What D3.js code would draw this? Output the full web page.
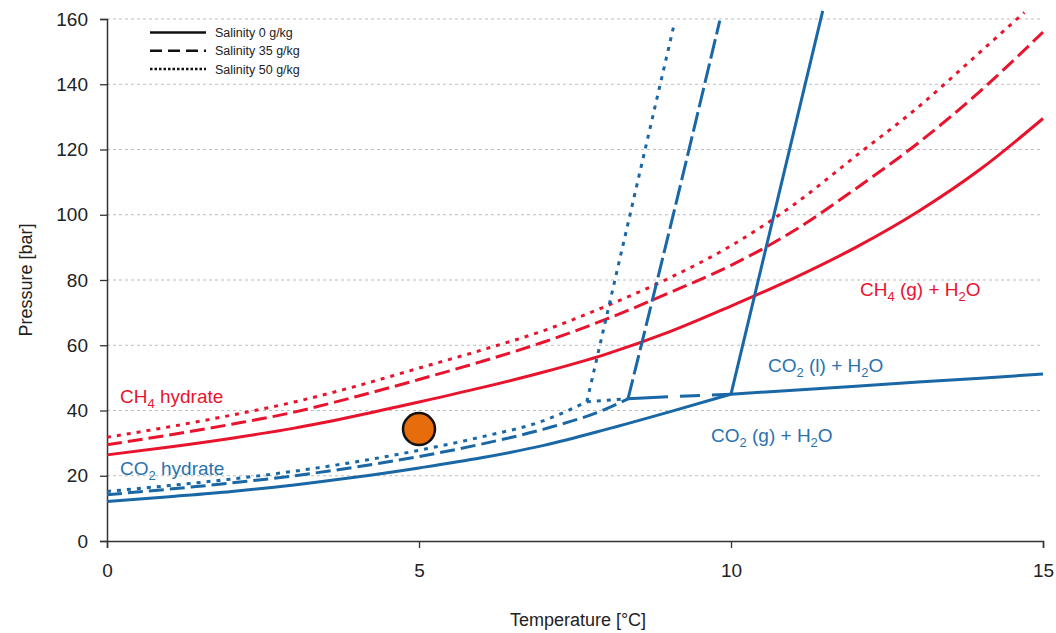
<!DOCTYPE html>
<html>
<head>
<meta charset="utf-8">
<script src="https://cdn.jsdelivr.net/npm/d3@7"></script>
<style>
  body { margin: 0; background: #fff; }
  text { font-family: "Liberation Sans", Arial, sans-serif; }
</style>
</head>
<body>
<svg id="chart" width="1056" height="633"></svg>
<script>
// temperatures (degC) for CH4 curves
const ch4Temp = [0, 1, 2, 3, 4, 5, 6, 7, 8, 9, 10, 11, 12, 13, 14, 15];
const ch4Sal0  = [26.4, 28.8, 31.5, 34.6, 38.4, 42.6, 47, 51.8, 57.3, 64, 72, 80.5, 90, 101, 114, 129.5];
const ch4Sal35 = [29.5, 32.5, 35.8, 39.5, 44.3, 49.5, 55, 61, 68, 76, 84.5, 95, 108, 122, 138, 156];
const ch4Sal50T = [0, 1, 2, 3, 4, 5, 6, 7, 8, 9, 10, 11, 12, 13, 14, 14.7];
const ch4Sal50 = [31.8, 35, 38.6, 42.6, 47.5, 53, 58.5, 64.5, 72, 80.5, 90.5, 103, 118, 133, 150, 162];

// CO2 hydrate + gas curves
const co2Sal0T  = [0, 1, 2, 3, 4, 5, 6, 7, 8, 9, 10];
const co2Sal0   = [12.1, 13.6, 15.2, 17.2, 19.6, 22.4, 25.5, 29.3, 34.2, 39.5, 45];
const co2Sal35T = [0, 1, 2, 3, 4, 5, 6, 7, 8, 8.35];
const co2Sal35  = [14.2, 15.9, 17.8, 20, 22.7, 25.9, 29.7, 34.3, 40.5, 43.6];
const co2Sal50T = [0, 1, 2, 3, 4, 5, 6, 7, 7.69];
const co2Sal50  = [15.2, 17, 19, 21.4, 24.3, 27.8, 31.9, 36.9, 42.7];

// CO2 vapour pressure line (shared)
const vapTemp = [7.69, 8.35, 9, 10, 11, 12, 13, 14, 15];
const vapP    = [42.7, 43.6, 44.2, 45, 46.2, 47.4, 48.7, 49.9, 51.2];

// CO2 hydrate + liquid lines (steep)
const liqSal0T  = [10, 11.47];
const liqSal0   = [45, 162.5];
const liqSal35T = [8.35, 9.1, 9.82];
const liqSal35  = [43.6, 102, 159.5];
const liqSal50T = [7.69, 8.43, 9.09];
const liqSal50  = [42.7, 104, 158.5];

const marker = [5.0, 34.3];

const xTicks = [0, 5, 10, 15];
const yTicks = [0, 20, 40, 60, 80, 100, 120, 140, 160];

const RED = "#e8142d", BLUE = "#1a67a6", BLUE_TXT = "#2a72ae";
const styles = { s0: null, s35: "15,6", s50: "4,6" };

const svg = d3.select("#chart");
const margin = { left: 107, right: 13, top: 19, bottom: 92 };
const W = 1056, H = 633;

const x = d3.scaleLinear().domain([0, 15]).range([margin.left, W - margin.right]);
const y = d3.scaleLinear().domain([0, 160]).range([H - margin.bottom, margin.top]);

// grid
svg.append("g").selectAll("line").data(yTicks.filter(d => d > 0)).enter().append("line")
  .attr("x1", x(0)).attr("x2", x(15))
  .attr("y1", d => y(d)).attr("y2", d => y(d))
  .attr("stroke", "#bdbdbd").attr("stroke-width", 1).attr("stroke-dasharray", "3,3");

// axes
const yAxis = svg.append("g").attr("transform", `translate(${x(0)},0)`)
  .call(d3.axisLeft(y).tickValues(yTicks).tickSize(7).tickPadding(12));
const xAxis = svg.append("g").attr("transform", `translate(0,${y(0)})`)
  .call(d3.axisBottom(x).tickValues(xTicks).tickSize(7).tickPadding(16));
[xAxis, yAxis].forEach(a => {
  a.select(".domain").attr("stroke", "#333").attr("stroke-width", 1.5);
  a.selectAll(".tick line").attr("stroke", "#333").attr("stroke-width", 1.3);
  a.selectAll(".tick text").attr("font-size", 19).attr("fill", "#222")
    .attr("font-family", "Liberation Sans, Arial, sans-serif");
});

svg.append("text").attr("transform", `translate(32,${(y(0) + y(160)) / 2}) rotate(-90)`)
  .attr("text-anchor", "middle").attr("font-size", 18).attr("fill", "#222").text("Pressure [bar]");
svg.append("text").attr("x", (x(0) + x(15)) / 2 + 3).attr("y", 626)
  .attr("text-anchor", "middle").attr("font-size", 18).attr("fill", "#222").text("Temperature [°C]");

function draw(ts, ps, color, dash, curve) {
  const line = d3.line().x(d => x(d[0])).y(d => y(d[1])).curve(curve || d3.curveMonotoneX);
  svg.append("path").datum(ts.map((t, i) => [t, ps[i]]))
    .attr("d", line).attr("fill", "none").attr("stroke", color)
    .attr("stroke-width", 3).attr("stroke-dasharray", dash);
}

// CH4 curves
draw(ch4Temp, ch4Sal0, RED, styles.s0);
draw(ch4Temp, ch4Sal35, RED, styles.s35);
draw(ch4Sal50T, ch4Sal50, RED, styles.s50);

// CO2 hydrate curves
draw(co2Sal0T, co2Sal0, BLUE, styles.s0);
draw(co2Sal35T, co2Sal35, BLUE, styles.s35);
draw(co2Sal50T, co2Sal50, BLUE, styles.s50);

// vapour line segments
const seg = (a, b) => {
  const idx = vapTemp.map((t, i) => i).filter(i => vapTemp[i] >= a && vapTemp[i] <= b);
  return [idx.map(i => vapTemp[i]), idx.map(i => vapP[i])];
};
let s = seg(7.69, 8.35); draw(s[0], s[1], BLUE, styles.s50, d3.curveLinear);
s = seg(8.35, 10); draw(s[0], s[1], BLUE, "40,12,20,12", d3.curveLinear);
s = seg(10, 15); draw(s[0], s[1], BLUE, styles.s0, d3.curveLinear);

// liquid lines
draw(liqSal0T, liqSal0, BLUE, styles.s0, d3.curveLinear);
draw(liqSal35T, liqSal35, BLUE, "20,5", d3.curveMonotoneY);
draw(liqSal50T, liqSal50, BLUE, styles.s50, d3.curveMonotoneY);

// marker
svg.append("circle").attr("cx", x(marker[0])).attr("cy", y(marker[1])).attr("r", 16)
  .attr("fill", "#e66c0c").attr("stroke", "#111").attr("stroke-width", 2.5);

// region labels; {s: "4"} marks a subscript
function label(xp, yp, color, parts) {
  const t = svg.append("text").attr("x", xp).attr("y", yp).attr("font-size", 19).attr("fill", color);
  let shift = 0;
  parts.forEach(p => {
    if (typeof p === "object") {
      t.append("tspan").attr("font-size", 13).attr("dy", 5).text(p.s);
      shift = -5;
    } else {
      t.append("tspan").attr("dy", shift).text(p);
      shift = 0;
    }
  });
}
label(120, 403, RED, ["CH", { s: "4" }, " hydrate"]);
label(120, 475, BLUE_TXT, ["CO", { s: "2" }, " hydrate"]);
label(860, 296, RED, ["CH", { s: "4" }, " (g) + H", { s: "2" }, "O"]);
label(768, 372, BLUE_TXT, ["CO", { s: "2" }, " (l) + H", { s: "2" }, "O"]);
label(711, 442, BLUE_TXT, ["CO", { s: "2" }, " (g) + H", { s: "2" }, "O"]);

// legend
const legendItems = ["Salinity 0 g/kg", "Salinity 35 g/kg", "Salinity 50 g/kg"];
const legendDash = [null, "12,6", "2.5,2"];
const lg = svg.append("g").selectAll("g").data(legendItems).enter().append("g")
  .attr("transform", (d, i) => `translate(150,${32.5 + i * 18.3})`);
lg.append("line").attr("x1", 0).attr("x2", 56).attr("stroke", "#111").attr("stroke-width", 2.5)
  .attr("stroke-dasharray", (d, i) => legendDash[i]);
lg.append("text").attr("x", 65).attr("y", 4.5).attr("font-size", 12.5).attr("fill", "#222").text(d => d);
</script>
</body>
</html>
